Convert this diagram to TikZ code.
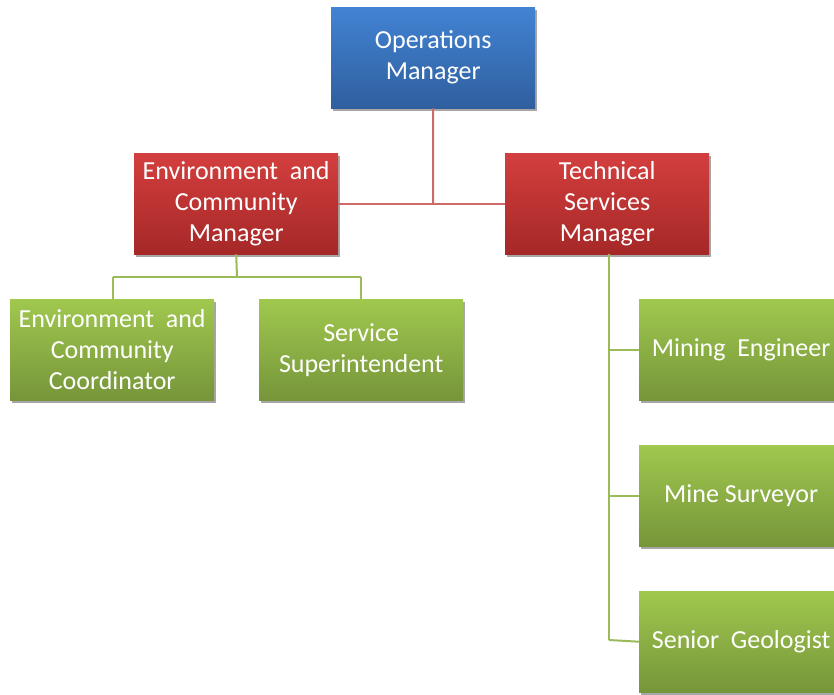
\documentclass[tikz,border=0pt]{standalone}
\usepackage{fontspec}
\setmainfont{Carlito}
\usetikzlibrary{shadows}
\definecolor{blueT}{HTML}{4283D3}
\definecolor{blueB}{HTML}{2F5F9E}
\definecolor{redT}{HTML}{D33F3E}
\definecolor{redB}{HTML}{A52827}
\definecolor{greenT}{HTML}{A0C84E}
\definecolor{greenB}{HTML}{76953A}
\definecolor{redline}{HTML}{CD6B69}
\definecolor{greenline}{HTML}{9BBB59}
\newcommand{\wsp}{\hspace{0.45em}}
\tikzset{
  orgbox/.style={draw=none, minimum width=204pt, minimum height=101pt,
    inner sep=0pt, align=center, anchor=north west, text=white,
    font=\fontsize{26pt}{31pt}\selectfont,
    drop shadow={shadow xshift=2pt, shadow yshift=-3pt, opacity=0.35, fill=black}},
  bluebox/.style={orgbox, top color=blueT, bottom color=blueB},
  redbox/.style={orgbox, top color=redT, bottom color=redB},
  greenbox/.style={orgbox, top color=greenT, bottom color=greenB},
  redlink/.style={draw=redline, line width=2pt},
  greenlink/.style={draw=greenline, line width=2pt},
}
\begin{document}
\begin{tikzpicture}[x=1pt,y=-1pt]
\useasboundingbox (0,0) rectangle (834,694);
\clip (0,0) rectangle (834,694);
% junction points of the connectors
\coordinate (jtop) at (433,204);
\coordinate (jenv) at (237,277);
\coordinate (jl) at (113,277);
\coordinate (jr) at (361,277);
\coordinate (tbot) at (609,640);

% boxes
\node[bluebox] (ops) at (331,7) {Operations\\Manager};
\node[redbox] (env) at (134,153) {Environment\wsp and\\Community\\Manager};
\node[redbox] (tech) at (505,153) {Technical\\Services\\Manager};
\node[greenbox] (coord) at (10,299) {Environment\wsp and\\Community\\Coordinator};
\node[greenbox] (serv) at (259,299) {Service\\Superintendent};
\node[greenbox] (mine) at (639,299) {Mining\wsp Engineer};
\node[greenbox] (surv) at (639,445) {Mine Surveyor};
\node[greenbox] (geo) at (639,591) {Senior\wsp Geologist};

% top level links
\draw[redlink] (ops.south) -- (jtop);
\draw[redlink] (env.east) -- (tech.west);

% environment branch
\draw[greenlink] (env.south) -- (jenv);
\draw[greenlink] (jl) -- (jr);
\draw[greenlink] (jl) -- (coord.north -| jl);
\draw[greenlink] (jr) -- (serv.north -| jr);

% technical branch
\draw[greenlink] (tech.south -| tbot) -- (tbot);
\draw[greenlink] (mine.west -| tbot) -- (mine.west);
\draw[greenlink] (surv.west -| tbot) -- (surv.west);
\draw[greenlink] (tbot) -- (geo.west);
\end{tikzpicture}
\end{document}
